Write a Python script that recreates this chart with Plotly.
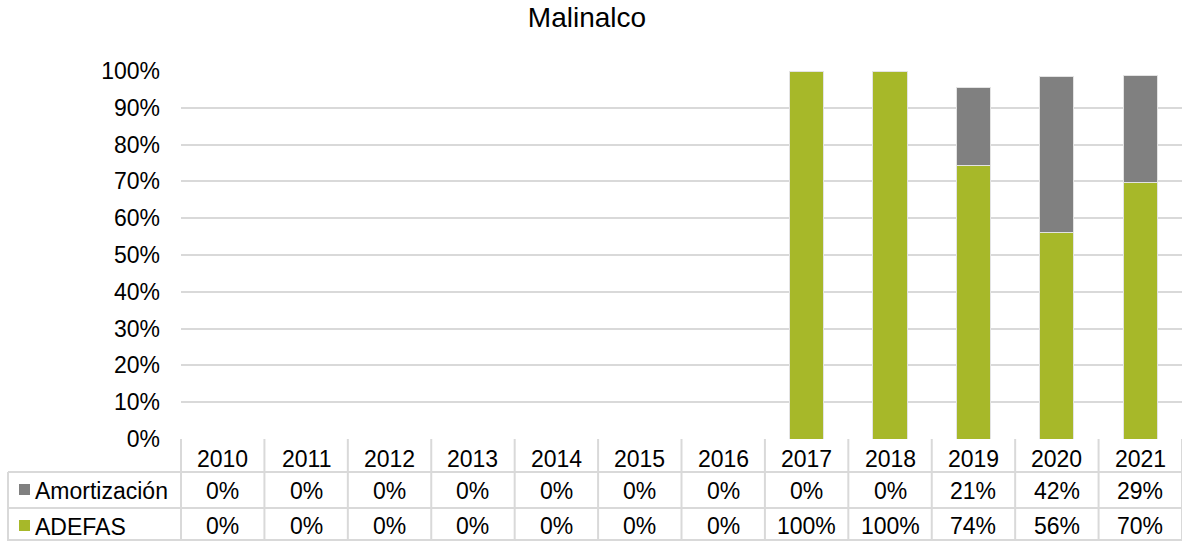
import plotly.graph_objects as go

years = ["2010", "2011", "2012", "2013", "2014", "2015", "2016", "2017", "2018", "2019", "2020", "2021"]
adefas = [0, 0, 0, 0, 0, 0, 0, 1.00, 1.00, 0.744, 0.560, 0.696]
amortizacion = [0, 0, 0, 0, 0, 0, 0, 0, 0, 0.211, 0.424, 0.293]
adefas_labels = ["0%", "0%", "0%", "0%", "0%", "0%", "0%", "100%", "100%", "74%", "56%", "70%"]
amort_labels = ["0%", "0%", "0%", "0%", "0%", "0%", "0%", "0%", "0%", "21%", "42%", "29%"]
series_names = ["Amortización", "ADEFAS"]

GREEN = "#A7B829"
GREY = "#808080"
GRID = "#D9D9D9"
FONT = "Liberation Sans, Arial, sans-serif"
FS = 23

W, H = 1182, 541
# reference pixel positions of the plot area
PL, PR, PT, PB = 181, 1182, 71, 439
L, R, T, B = PL, W - PR, PT, H - PB
pw = W - L - R
ph = H - T - B

def px_x(px):
    return (px - L) / pw

def px_y(py):
    return (H - B - py) / ph

fig = go.Figure()
fig.add_trace(go.Bar(x=years, y=adefas, name=series_names[1], marker=dict(color=GREEN, line=dict(color="#E3E3E3", width=1)), width=0.41, showlegend=False))
fig.add_trace(go.Bar(x=years, y=amortizacion, name=series_names[0], marker=dict(color=GREY, line=dict(color="#E3E3E3", width=1)), width=0.41, showlegend=False))

shapes = []
annotations = []
line = dict(color=GRID, width=2)
for yy in (472, 508, 540):
    shapes.append(dict(type="line", xref="paper", yref="paper", x0=px_x(8), x1=1, y0=px_y(yy), y1=px_y(yy), line=line))
shapes.append(dict(type="line", xref="paper", yref="paper", x0=px_x(8), x1=px_x(8), y0=px_y(472), y1=px_y(541), line=line))
n = len(years)
for i in range(n + 1):
    shapes.append(dict(type="line", xref="paper", yref="paper", x0=i / n, x1=i / n, y0=0, y1=px_y(541), line=line))

# legend keys
shapes.append(dict(type="rect", xref="paper", yref="paper", x0=px_x(19), x1=px_x(30), y0=px_y(484), y1=px_y(495), fillcolor=GREY, line=dict(width=0)))
shapes.append(dict(type="rect", xref="paper", yref="paper", x0=px_x(19), x1=px_x(30), y0=px_y(520), y1=px_y(531), fillcolor=GREEN, line=dict(width=0)))
annotations.append(dict(x=px_x(33), y=px_y(491), xref="paper", yref="paper", text=series_names[0], showarrow=False, xanchor="left", yanchor="middle", font=dict(size=FS, color="#000000", family=FONT)))
annotations.append(dict(x=px_x(33), y=px_y(527), xref="paper", yref="paper", text=series_names[1], showarrow=False, xanchor="left", yanchor="middle", font=dict(size=FS, color="#000000", family=FONT)))

for i, yr in enumerate(years):
    cx = (i + 0.5) / n
    annotations.append(dict(x=cx, y=px_y(459), xref="paper", yref="paper", text=yr, showarrow=False, xanchor="center", yanchor="middle", font=dict(size=FS, color="#000000", family=FONT)))
    annotations.append(dict(x=cx, y=px_y(491), xref="paper", yref="paper", text=amort_labels[i], showarrow=False, xanchor="center", yanchor="middle", font=dict(size=FS, color="#000000", family=FONT)))
    annotations.append(dict(x=cx, y=px_y(526), xref="paper", yref="paper", text=adefas_labels[i], showarrow=False, xanchor="center", yanchor="middle", font=dict(size=FS, color="#000000", family=FONT)))

fig.update_layout(
    width=W, height=H,
    margin=dict(l=L, r=R, t=T, b=B),
    barmode="stack",
    paper_bgcolor="white", plot_bgcolor="white",
    title=dict(text="Malinalco", x=587 / W, xanchor="center", y=1 - 17 / H, yanchor="middle", font=dict(size=28, color="#000000", family=FONT)),
    font=dict(family=FONT, size=FS, color="#000000"),
    shapes=shapes,
    annotations=annotations,
    xaxis=dict(type="category", range=[-0.5, 11.5], showticklabels=False, showgrid=False, zeroline=False, showline=False, ticks=""),
    yaxis=dict(range=[0, 1.0], tickvals=[i / 10 for i in range(11)], tickformat=".0%", showgrid=True, gridcolor=GRID, gridwidth=2, zeroline=False, showline=False, ticks="", ticklabelstandoff=20, tickfont=dict(size=FS, color="#000000", family=FONT)),
)

fig.write_html("out.html", config={"displayModeBar": False}, post_script="document.body.style.margin='0px';document.body.style.overflow='hidden';")
